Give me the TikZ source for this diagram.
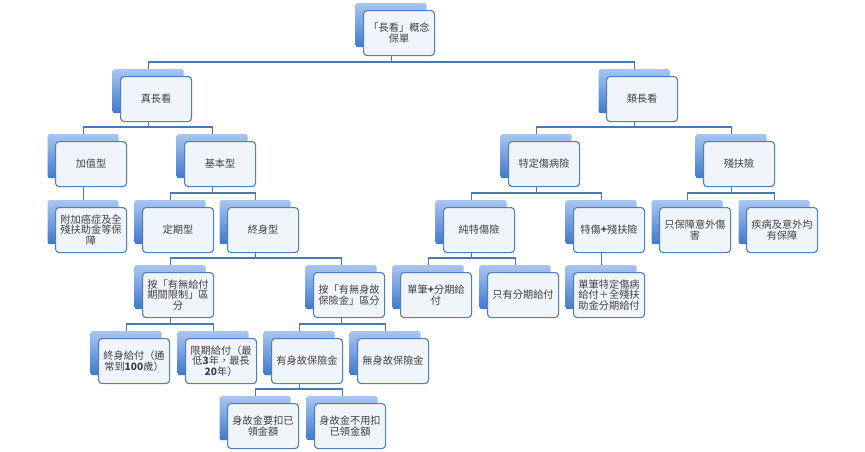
\documentclass[tikz,border=0pt]{standalone}
\usepackage{fontspec}
\newfontfamily\cjk{Noto Sans CJK TC}
\usetikzlibrary{calc}
\definecolor{bkA}{HTML}{A9C5F0}
\definecolor{bkB}{HTML}{3F78CC}
\definecolor{frFill}{HTML}{F0F4FB}
\definecolor{frLine}{HTML}{4F7FBF}
\definecolor{cnLine}{HTML}{4A78B5}
\definecolor{txt}{HTML}{404040}
\pgfdeclarelayer{bk}
\pgfdeclarelayer{cn}
\pgfsetlayers{bk,cn,main}
\tikzset{
  backbox/.style={rounded corners=2pt, top color=bkA, bottom color=bkB, draw=none,
    minimum width=71pt, minimum height=44pt, inner sep=0pt, anchor=north west},
  frontbox/.style={rounded corners=3.5pt, draw=frLine, line width=1.1pt, fill=frFill,
    minimum width=71pt, minimum height=45pt, inner sep=0pt, text width=66pt,
    align=center, anchor=north west, text=txt, font=\cjk\fontsize{10.2}{10.8}\selectfont},
  connline/.style={draw=cnLine, line width=1.3pt}
}
\newcommand\elem[4]{%
  \begin{pgfonlayer}{bk}
  \node[backbox] (#1-b) at ({#2-7.5},{-#3+7}) {};
  \end{pgfonlayer}
  \node[frontbox] (#1) at (#2,-#3) {#4};}
\newcommand\conn[2]{%
  \begin{pgfonlayer}{cn}
  \draw[connline] (#1-b.south) |- ($(#2-b.north)+(0,7)$) -| (#2-b.north);
  \end{pgfonlayer}}
\begin{document}
\begin{tikzpicture}[x=1pt,y=1pt]
\useasboundingbox (0,0) rectangle (865,-451);
\elem{root}{363}{10}{「長看」概念\\保單}
\elem{zhen}{120}{76}{真長看}
\elem{lei}{606}{76}{類長看}
\elem{jia}{55}{141}{加值型}
\elem{ji}{184}{141}{基本型}
\elem{te}{508}{141}{特定傷病險}
\elem{can}{703}{141}{殘扶險}
\elem{fu}{55}{207}{附加癌症及全\\殘扶助金等保\\障}
\elem{ding}{142}{207}{定期型}
\elem{zhong}{227}{207}{終身型}
\elem{chun}{443}{207}{純特傷險}
\elem{tecan}{573}{207}{特傷\textbf{+}殘扶險}
\elem{zhi}{659}{207}{只保障意外傷\\害}
\elem{jb}{746}{207}{疾病及意外均\\有保障}
\elem{anA}{142}{272}{按「有無給付\\期間限制」區\\分}
\elem{anB}{313}{272}{按「有無身故\\保險金」區分}
\elem{dan}{400}{272}{單筆\textbf{+}分期給\\付}
\elem{fen}{487}{272}{只有分期給付}
\elem{danT}{573}{272}{單筆特定傷病\\給付＋全殘扶\\助金分期給付}
\elem{zg}{98}{338}{終身給付（通\\常到\textbf{100}歲）}
\elem{xq}{185}{338}{限期給付（最\\低\textbf{3}年，最長\\\textbf{20}年）}
\elem{ys}{271}{338}{有身故保險金}
\elem{ws}{357}{338}{無身故保險金}
\elem{kou}{227}{403}{身故金要扣已\\領金額}
\elem{bukou}{314}{403}{身故金不用扣\\已領金額}
\conn{root}{zhen}
\conn{root}{lei}
\conn{zhen}{jia}
\conn{zhen}{ji}
\conn{lei}{te}
\conn{lei}{can}
\conn{jia}{fu}
\conn{ji}{ding}
\conn{ji}{zhong}
\conn{te}{chun}
\conn{te}{tecan}
\conn{can}{zhi}
\conn{can}{jb}
\conn{zhong}{anA}
\conn{zhong}{anB}
\conn{chun}{dan}
\conn{chun}{fen}
\conn{tecan}{danT}
\conn{anA}{zg}
\conn{anA}{xq}
\conn{anB}{ys}
\conn{anB}{ws}
\conn{ys}{kou}
\conn{ys}{bukou}
\end{tikzpicture}
\end{document}
